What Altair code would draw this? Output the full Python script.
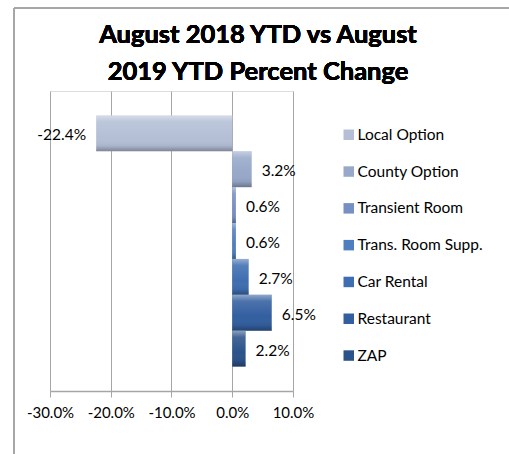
import altair as alt
import pandas as pd

categories = ["Local Option", "County Option", "Transient Room", "Trans. Room Supp.",
              "Car Rental", "Restaurant", "ZAP"]
values = [-0.224, 0.032, 0.006, 0.006, 0.027, 0.065, 0.022]
colors = ["#B4BFD6", "#97A8C9", "#7690C3", "#4F7EC0", "#3F6EB0", "#335FA0", "#2B5289"]
tick_values = [-0.3, -0.2, -0.1, 0.0, 0.1]
title_lines = ["August 2018 YTD vs August", "2019 YTD Percent Change"]

df = pd.DataFrame({"category": categories, "value": values})

FONT = "Lato"
GRID = "#A6A6A6"

W, H = 243, 300
PL, PT = 50, 91

x_enc = alt.X("value:Q",
              scale=alt.Scale(domain=[-0.3, 0.1], nice=False, zero=False),
              axis=alt.Axis(values=tick_values, format=".1%", title=None,
                            labelExpr="replace(datum.label, '\u2212', '-')",
                            labelOverlap=False, labelFlush=False,
                            grid=True, gridColor=GRID, gridWidth=1,
                            domainColor=GRID, tickColor=GRID, tickSize=6,
                            labelFont=FONT, labelFontSize=15, labelColor="#000000",
                            labelPadding=8, domainWidth=1.5))
y_enc = alt.Y("category:N", sort=categories,
              scale=alt.Scale(paddingInner=0, paddingOuter=0.68),
              axis=None)

base = alt.Chart(df).transform_calculate(
    label="replace(format(datum.value, '.1%'), '\u2212', '-')")

bars = base.mark_bar(stroke=None).encode(
    x=x_enc,
    x2=alt.datum(0),
    y=y_enc,
    color=alt.Color("category:N", sort=categories,
                    scale=alt.Scale(domain=categories, range=colors),
                    legend=alt.Legend(title=None, orient="none",
                                      legendX=291, legendY=36,
                                      symbolType="square", symbolSize=110,
                                      symbolStrokeWidth=0,
                                      labelFont=FONT, labelFontSize=15.5,
                                      labelColor="#000000", labelOffset=1,
                                      rowPadding=19.8)),
)

shade = base.mark_bar(
    fill=alt.LinearGradient(
        gradient="linear", x1=0, x2=0, y1=0, y2=1,
        stops=[alt.GradientStop(offset=0, color="rgba(255,255,255,0.45)"),
               alt.GradientStop(offset=0.18, color="rgba(255,255,255,0.12)"),
               alt.GradientStop(offset=0.6, color="rgba(255,255,255,0)"),
               alt.GradientStop(offset=0.85, color="rgba(0,0,0,0.06)"),
               alt.GradientStop(offset=1, color="rgba(0,0,0,0.3)")]),
    stroke=None,
).encode(x="value:Q", x2=alt.datum(0), y=alt.Y("category:N", sort=categories))

pos_labels = base.transform_filter("datum.value >= 0").mark_text(
    align="left", baseline="middle", dx=10, dy=2, font=FONT, fontSize=15.5, color="#000000"
).encode(x="value:Q", y=alt.Y("category:N", sort=categories), text="label:N")

neg_labels = base.transform_filter("datum.value < 0").mark_text(
    align="right", baseline="middle", dx=-10, dy=2, font=FONT, fontSize=15.5, color="#000000"
).encode(x="value:Q", y=alt.Y("category:N", sort=categories), text="label:N")

title1 = alt.Chart(df).mark_text(
    font=FONT, fontSize=25.5, fontWeight="bold", color="#000000",
    align="center", baseline="alphabetic"
).encode(x=alt.value(258 - PL), y=alt.value(43 - PT), text=alt.value(title_lines[0]))
title2 = alt.Chart(df).mark_text(
    font=FONT, fontSize=25.5, fontWeight="bold", color="#000000",
    align="center", baseline="alphabetic"
).encode(x=alt.value(258 - PL), y=alt.value(80 - PT), text=alt.value(title_lines[1]))

border_left = alt.Chart(df).mark_rule(color=GRID, strokeWidth=1).encode(
    x=alt.value(14 - PL), y=alt.value(8 - PT), y2=alt.value(454 - PT + 5))
border_top = alt.Chart(df).mark_rule(color=GRID, strokeWidth=1).encode(
    x=alt.value(14 - PL), x2=alt.value(509 - PL + 5), y=alt.value(8 - PT))

chart = alt.layer(bars, shade, pos_labels, neg_labels, title1, title2,
                  border_left, border_top).properties(
    width=W, height=H,
    padding={"left": PL, "top": PT, "right": 509 - PL - W, "bottom": 454 - PT - H},
    autosize=alt.AutoSizeParams(type="none"),
).configure_view(stroke=None).configure(background="#FFFFFF")

chart.save("out.html", embed_options={"renderer": "svg", "actions": False})
